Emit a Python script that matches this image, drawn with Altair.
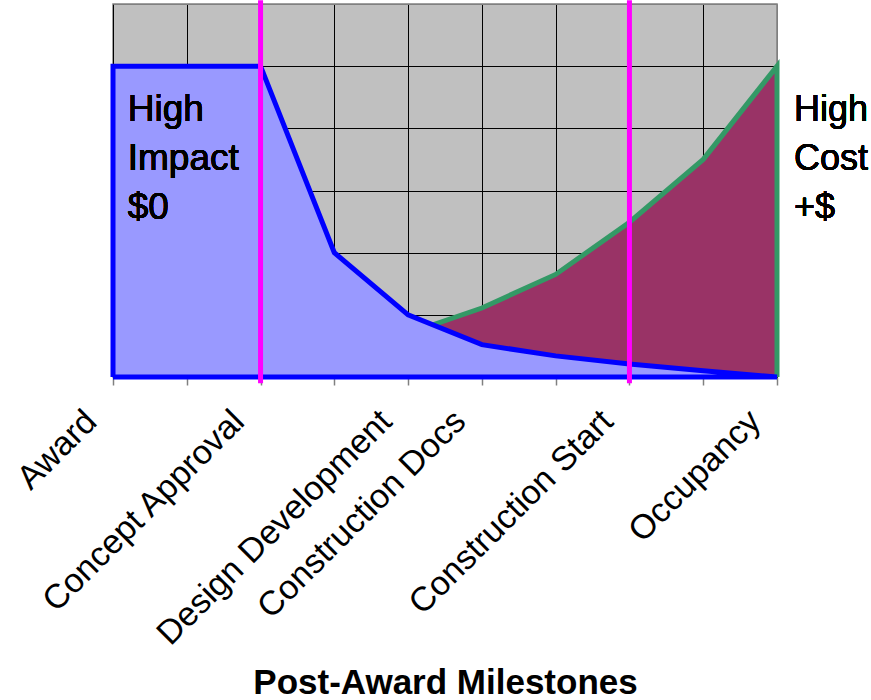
import json
import altair as alt
import pandas as pd

# ---- data ----
milestones = ["Award", "", "Concept Approval", "", "Design Development",
              "Construction Docs", "", "Construction Start", "", "Occupancy"]
steps = list(range(10))
impact = [5.0, 5.0, 5.0, 2.0, 1.0, 0.52, 0.34, 0.21, 0.10, 0.0]
cost_steps = [4, 5, 6, 7, 8, 9]
cost = [0.70, 1.11, 1.65, 2.49, 3.50, 5.0]
gates = [2, 7]
left_note = ["High", "Impact", "$0"]
right_note = ["High", "Cost", "+$"]

impact_df = pd.DataFrame({"step": steps, "value": impact})
impact_outline = pd.DataFrame({
    "step": [0] + steps + [0],
    "value": [0.0] + impact + [0.0],
    "order": list(range(len(steps) + 2)),
})
cost_df = pd.DataFrame({"step": cost_steps, "value": cost})
cost_outline = pd.DataFrame({
    "step": cost_steps + [cost_steps[-1]],
    "value": cost + [0.0],
    "order": list(range(len(cost_steps) + 1)),
})
gates_df = pd.DataFrame({"step": gates})

FONT = "Liberation Sans"
label_expr = json.dumps(milestones) + "[datum.value]"

x_enc = alt.X(
    "step:Q",
    scale=alt.Scale(domain=[0, 9], nice=False, zero=False),
    title="Post-Award Milestones",
    axis=alt.Axis(
        values=steps,
        labelExpr=label_expr,
        labelAngle=-45,
        labelAlign="right",
        labelBaseline="middle",
        labelPadding=31,
        labelOffset=-22,
        labelFontSize=34,
        labelFont=FONT,
        labelColor="black",
        labelOverlap=False,
        labelBound=False,
        labelLimit=0,
        tickSize=8,
        tickColor="#808080",
        tickWidth=1.5,
        domainColor="black",
        grid=True,
        gridColor={"condition": {"test": "datum.value == 9", "value": "#808080"}, "value": "black"},
        gridWidth=1,
        titleFont=FONT,
        titleFontSize=35,
        titleFontWeight="bold",
        titleColor="black",
        titleY=316,
        titleBaseline="alphabetic",
    ),
)
y_enc = alt.Y(
    "value:Q",
    scale=alt.Scale(domain=[0, 6], nice=False),
    title=None,
    axis=alt.Axis(
        values=[0, 1, 2, 3, 4, 5, 6],
        labels=False,
        ticks=False,
        domain=False,
        grid=True,
        gridColor={"condition": {"test": "datum.value == 6", "value": "#808080"}, "value": "black"},
        gridWidth=1,
    ),
)

cost_area = alt.Chart(cost_df).mark_area(color="#993366", opacity=1).encode(x=x_enc, y=y_enc)
cost_line = alt.Chart(cost_outline).mark_line(
    color="#339966", strokeWidth=5, clip=False
).encode(x=x_enc, y=y_enc, order=alt.Order("order:Q"))
impact_area = alt.Chart(impact_df).mark_area(color="#9999FF", opacity=1).encode(x=x_enc, y=y_enc)
impact_line = alt.Chart(impact_outline).mark_line(
    color="#0000FF", strokeWidth=5, clip=False
).encode(x=x_enc, y=y_enc, order=alt.Order("order:Q"))
gate_rules = alt.Chart(gates_df).mark_rule(
    color="#FF00FF", strokeWidth=5, clip=False
).encode(x=x_enc, y=alt.datum(6.06), y2=alt.datum(-0.1))

left_text = alt.Chart(impact_df).mark_text(
    text=left_note, font=FONT, fontSize=37, align="left", baseline="alphabetic",
    lineHeight=49, color="black", clip=False
).encode(x=alt.datum(0.2), y=alt.datum(4.11))
right_text = alt.Chart(impact_df).mark_text(
    text=right_note, font=FONT, fontSize=36, align="left", baseline="alphabetic",
    lineHeight=49, color="black", clip=False
).encode(x=alt.datum(9.23), y=alt.datum(4.11))

chart = alt.layer(
    cost_area, cost_line, impact_area, impact_line, gate_rules, left_text, right_text
).properties(
    width=664,
    height=373,
    autosize="none",
    padding={"left": 113, "top": 4, "right": 94, "bottom": 323},
    background="white",
).configure_view(
    fill="#C0C0C0", stroke="#808080", strokeWidth=1.5
)

chart.save("out.html", embed_options={"renderer": "svg", "actions": False})
